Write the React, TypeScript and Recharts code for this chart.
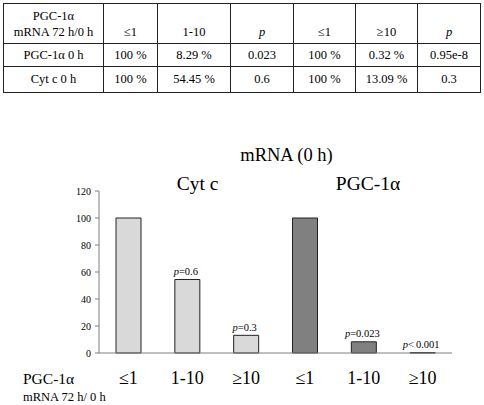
import React from 'react';
import { BarChart, Bar, XAxis, YAxis, Cell, LabelList, Customized } from 'recharts';

const categories = ['cyt_le1', 'cyt_1_10', 'cyt_ge10', 'pgc_le1', 'pgc_1_10', 'pgc_ge10'];
const tickLabels = ['≤1', '1-10', '≥10', '≤1', '1-10', '≥10'];
const cytcValues = [100, 54.45, 13.09];
const pgcValues = [100, 8.29, 0.32];
const cytcP = ['', '=0.6', '=0.3'];
const pgcP = ['', '=0.023', '<\u20090.001'];
const yTicks = [0, 20, 40, 60, 80, 100, 120];

const tableHeader = ['≤1', '1-10', 'p', '≤1', '≥10', 'p'];
const tableRows = [
  ['PGC-1α 0 h', '100 %', '8.29 %', '0.023', '100 %', '0.32 %', '0.95e-8'],
  ['Cyt c 0 h', '100 %', '54.45 %', '0.6', '100 %', '13.09 %', '0.3'],
];

const LIGHT = '#d9d9d9';
const DARK = '#808080';
const FONT = 'Liberation Serif';

const values = [...cytcValues, ...pgcValues];
const pLabels = [...cytcP, ...pgcP];
const data = categories.map((c, i) => ({
  cat: c,
  value: values[i],
  p: pLabels[i],
  group: i < 3 ? 'cyt' : 'pgc',
}));

const colWidths = [100, 54, 73, 63, 62, 62, 63];

const cellBorder = '1px solid #222';

function Table() {
  const base: React.CSSProperties = {
    border: cellBorder,
    padding: 0,
    textAlign: 'center',
    fontFamily: FONT,
    fontSize: 12.5,
    color: '#000',
    overflow: 'hidden',
    whiteSpace: 'nowrap',
  };
  return (
    <table
      style={{
        position: 'absolute',
        left: 3,
        top: 3,
        width: 477,
        borderCollapse: 'collapse',
        tableLayout: 'fixed',
      }}
    >
      <colgroup>
        {colWidths.map((w, i) => (
          <col key={i} style={{ width: w }} />
        ))}
      </colgroup>
      <tbody>
        <tr style={{ height: 40 }}>
          <td style={{ ...base, verticalAlign: 'bottom', lineHeight: '16px', paddingBottom: 3 }}>
            PGC-1α
            <br />
            mRNA 72 h/0 h
          </td>
          {tableHeader.map((h, i) => (
            <td
              key={i}
              style={{
                ...base,
                verticalAlign: 'bottom',
                paddingBottom: 3,
                lineHeight: '16px',
                fontStyle: h === 'p' ? 'italic' : 'normal',
              }}
            >
              {h}
            </td>
          ))}
        </tr>
        {tableRows.map((row, r) => (
          <tr key={r} style={{ height: r === 0 ? 23 : 26 }}>
            {row.map((v, i) => (
              <td key={i} style={{ ...base, verticalAlign: 'middle' }}>
                {v}
              </td>
            ))}
          </tr>
        ))}
      </tbody>
    </table>
  );
}

const renderPLabel = (props: any) => {
  const { x, y, width, value } = props;
  if (!value) return null;
  return (
    <text
      x={Number(x) + Number(width) / 2 - 1.5}
      y={Number(y) - 4.5}
      textAnchor="middle"
      fontSize={10.5}
      fill="#000"
      style={{ fontFamily: FONT }}
    >
      <tspan fontStyle="italic">p</tspan>
      <tspan>{value}</tspan>
    </text>
  );
};

const Titles = () => (
  <g fill="#000" style={{ fontFamily: FONT }}>
    <text x={286.5} y={161} textAnchor="middle" fontSize={18.5}>
      mRNA (0 h)
    </text>
    <text x={197.5} y={190} textAnchor="middle" fontSize={19.5}>
      Cyt c
    </text>
    <text x={368} y={190} textAnchor="middle" fontSize={19.5}>
      PGC-1α
    </text>
    <text x={23} y={384} textAnchor="start" fontSize={15.5}>
      PGC-1α
    </text>
    <text x={23} y={400.5} textAnchor="start" fontSize={12.5}>
      mRNA 72 h/ 0 h
    </text>
  </g>
);

export default function App() {
  return (
    <div style={{ position: 'absolute', left: 0, top: 0, width: 484, height: 405, background: '#fff', fontFamily: FONT }}>
      <div style={{ position: 'absolute', left: 0, top: 0, fontFamily: FONT }}>
        <BarChart
          width={484}
          height={405}
          data={data}
          margin={{ top: 191, right: 32, bottom: 22, left: 59 }}
          barSize={25}
          style={{ fontFamily: FONT }}
        >
          <XAxis
            dataKey="cat"
            height={30}
            axisLine={{ stroke: '#7f7f7f', strokeWidth: 1 }}
            tickLine={false}
            tickMargin={12}
            tickFormatter={(_v: any, i: number) => tickLabels[i]}
            tick={{ fontSize: 18, fill: '#000', style: { fontFamily: FONT } }}
            interval={0}
          />
          <YAxis
            width={40}
            domain={[0, 120]}
            ticks={yTicks}
            interval={0}
            axisLine={{ stroke: '#7f7f7f', strokeWidth: 1 }}
            tickLine={{ stroke: '#7f7f7f' }}
            tickSize={4}
            tickMargin={4}
            tick={{ fontSize: 10, fill: '#000', style: { fontFamily: FONT } }}
          />
          <Bar dataKey="value" isAnimationActive={false} stroke="#222" strokeWidth={1}>
            {data.map((d, i) => (
              <Cell key={i} fill={d.group === 'cyt' ? LIGHT : DARK} />
            ))}
            <LabelList dataKey="p" content={renderPLabel} />
          </Bar>
          <Customized component={Titles} />
        </BarChart>
      </div>
      <Table />
    </div>
  );
}
